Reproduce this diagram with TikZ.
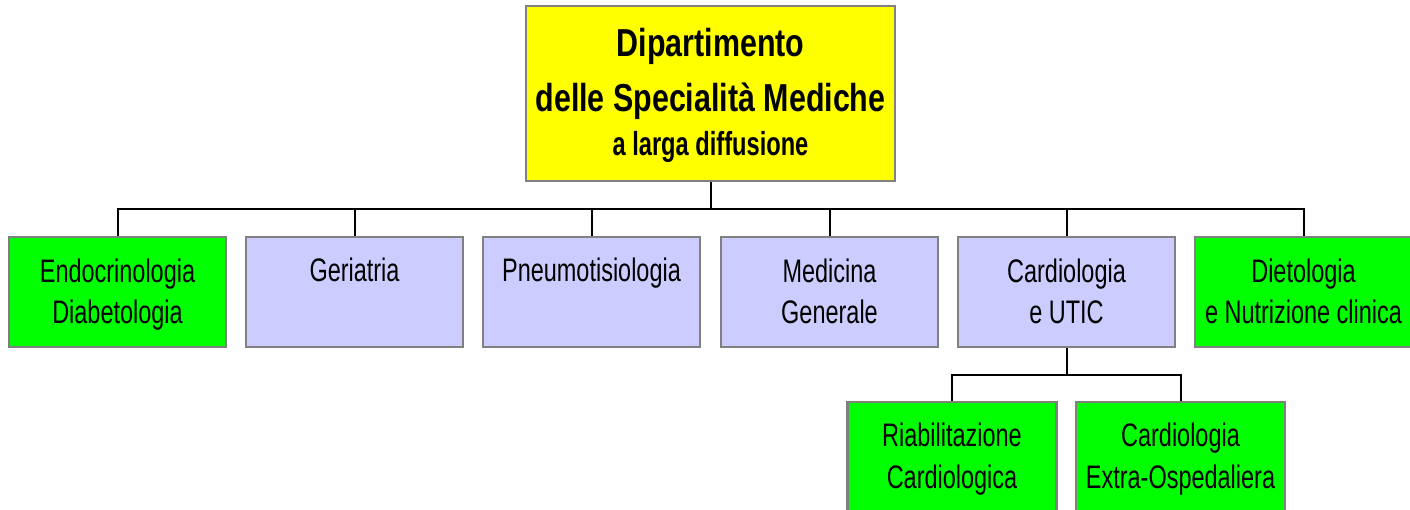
\documentclass[tikz,border=0pt]{standalone}
\usepackage{fontspec}
\setmainfont{Liberation Sans}[FakeStretch=0.72]
\newfontfamily\titlefont{Liberation Sans}[FakeStretch=0.78]
\newfontfamily\subtitlefont{Liberation Sans}[FakeStretch=0.71]
\definecolor{boxyellow}{HTML}{FFFF00}
\definecolor{boxgreen}{HTML}{00FF00}
\definecolor{boxlav}{HTML}{CCCCFF}
\definecolor{boxedge}{HTML}{808080}
\tikzset{
  box/.style={draw=boxedge, line width=2.5pt, rectangle, inner sep=0pt},
  rowbox/.style={box, minimum width=217pt, minimum height=110pt},
  subbox/.style={box, minimum width=209pt, minimum height=110pt},
  lbl/.style={anchor=base, inner sep=0pt, align=center, font=\fontsize{32.6}{42}\selectfont},
  conn/.style={draw=black, line width=2pt}
}
\begin{document}
\begin{tikzpicture}[x=1pt,y=-1pt]
\useasboundingbox (0,0) rectangle (1410,510);
% top
\node[box, fill=boxyellow, minimum width=369pt, minimum height=175pt] (top) at (710.5,93.5) {};
\node[anchor=base, inner sep=0pt, font=\titlefont\bfseries\fontsize{39}{42}\selectfont] (t1) at (710.5,57) {Dipartimento};
\node[anchor=base, inner sep=0pt, font=\titlefont\bfseries\fontsize{39}{42}\selectfont] (t2) at (710.5,112) {delle Specialità Mediche};
\node[anchor=base, inner sep=0pt, font=\subtitlefont\bfseries\fontsize{33.3}{36}\selectfont] (t3) at (710.5,156) {a larga diffusione};
% row
\node[rowbox, fill=boxgreen] (endo) at (117.5,292) {};
\node[lbl] (endoT) at (117.5,324) {Endocrinologia\\Diabetologia};
\node[rowbox, fill=boxlav] (geri) at (354.5,292) {};
\node[lbl] (geriT) at (354.5,282) {Geriatria};
\node[rowbox, fill=boxlav] (pneu) at (591.5,292) {};
\node[lbl] (pneuT) at (591.5,282) {Pneumotisiologia};
\node[rowbox, fill=boxlav] (medi) at (829.5,292) {};
\node[lbl] (mediT) at (829.5,324) {Medicina\\Generale};
\node[rowbox, fill=boxlav] (card) at (1066.5,292) {};
\node[lbl] (cardT) at (1066.5,324) {Cardiologia\\e UTIC};
\node[rowbox, fill=boxgreen] (diet) at (1303.5,292) {};
\node[lbl] (dietT) at (1303.5,324) {Dietologia\\e Nutrizione clinica};
% sub row
\node[subbox, fill=boxgreen] (riab) at (952,457) {};
\node[lbl] (riabT) at (952,488) {Riabilitazione\\Cardiologica};
\node[subbox, fill=boxgreen] (extra) at (1180.5,457) {};
\node[lbl] (extraT) at (1180.5,488) {Cardiologia\\Extra-Ospedaliera};
% connectors
\coordinate (bus) at (710.5,209);
\draw[conn] (top.south) -- (bus);
\foreach \n in {endo,geri,pneu,medi,card,diet} {
  \draw[conn] (\n.north) |- (bus);
}
\coordinate (cbus) at (1066.5,375);
\draw[conn] (card.south) -- (cbus);
\draw[conn] (riab.north) |- (cbus);
\draw[conn] (extra.north) |- (cbus);
\end{tikzpicture}
\end{document}
